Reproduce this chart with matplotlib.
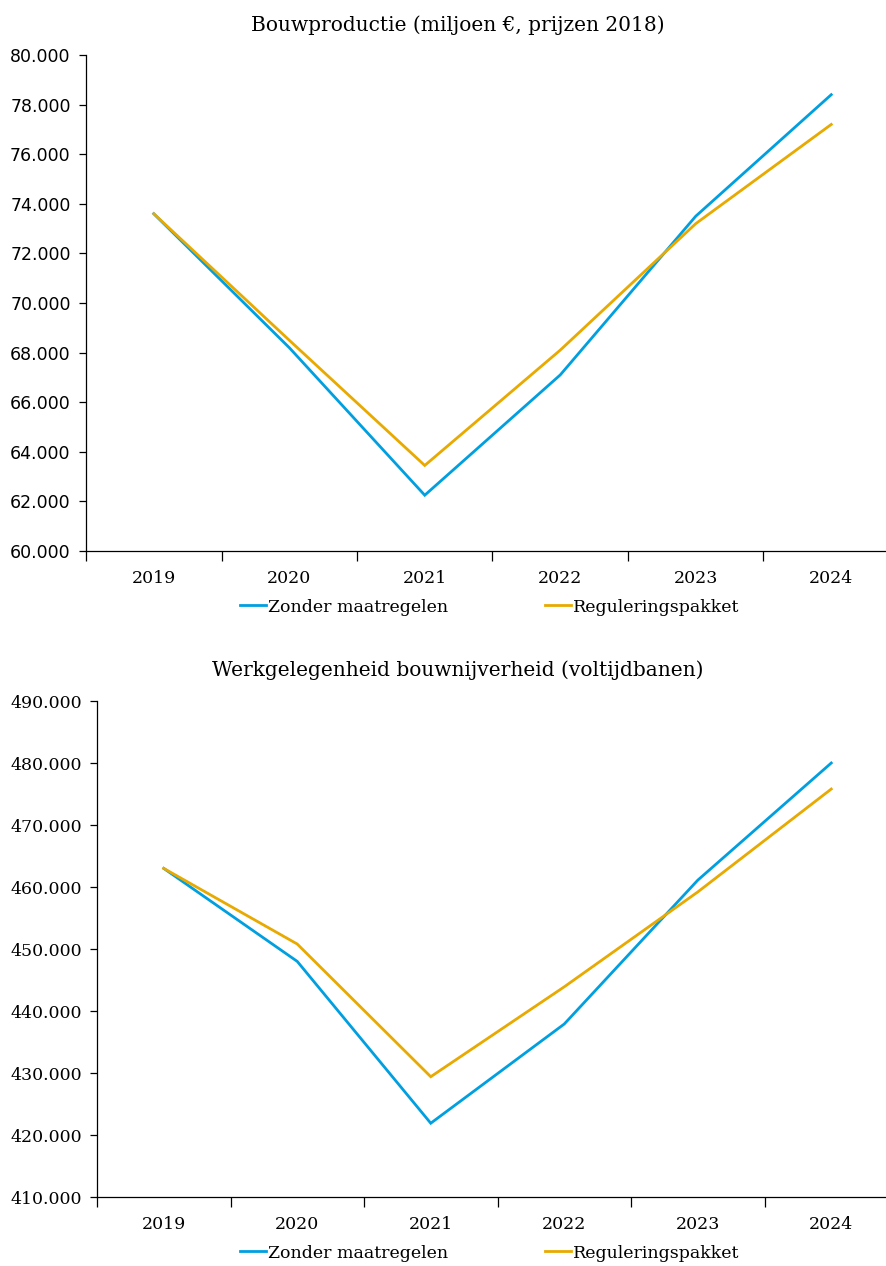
import matplotlib.pyplot as plt
from matplotlib.ticker import FuncFormatter, FixedLocator

years = ["2019", "2020", "2021", "2022", "2023", "2024"]
series_names = ["Zonder maatregelen", "Reguleringspakket"]
colors = ["#009FE0", "#E8A900"]

# Bouwproductie, miljoen euro (prijzen 2018)
productie_zonder = [73600, 68200, 62250, 67100, 73500, 78400]
productie_pakket = [73600, 68500, 63450, 68100, 73200, 77200]

# Werkgelegenheid bouwnijverheid, voltijdbanen
banen_zonder = [463000, 448000, 421900, 437900, 461100, 480000]
banen_pakket = [463000, 450800, 429400, 443900, 459200, 475800]

W, H = 886, 1266
SERIF = "DejaVu Serif"


def dotted_thousands(v, _pos=None):
    return f"{v:,.0f}".replace(",", ".")


def panel(rect_px, title, zonder, pakket, ylim, ystep, ytick_font, title_y, legend_y):
    left, top, right, bottom = rect_px
    ax = plt.gcf().add_axes([left / W, 1 - bottom / H, (right - left) / W, (bottom - top) / H])
    x = range(len(years))
    ax.plot(x, zonder, color=colors[0], lw=2.0, label=series_names[0], solid_joinstyle="miter")
    ax.plot(x, pakket, color=colors[1], lw=2.0, label=series_names[1], solid_joinstyle="miter")

    ax.set_xlim(-0.5, len(years) - 0.5)
    ax.set_ylim(*ylim)
    ax.set_yticks(range(ylim[0], ylim[1] + 1, ystep))
    ax.yaxis.set_major_formatter(FuncFormatter(dotted_thousands))

    # category boundaries carry the tick marks, labels sit in the middle
    ax.xaxis.set_major_locator(FixedLocator([i - 0.5 for i in range(len(years) + 1)]))
    ax.xaxis.set_minor_locator(FixedLocator(list(x)))
    ax.set_xticklabels([""] * (len(years) + 1))
    ax.set_xticklabels(years, minor=True, family=SERIF, fontsize=12.5)
    ax.tick_params(axis="x", which="major", length=7, width=0.9, direction="out")
    ax.tick_params(axis="x", which="minor", length=0, pad=14)
    ax.tick_params(axis="y", length=5, width=0.9, pad=6)
    for lab in ax.get_yticklabels():
        lab.set_family(ytick_font)
        lab.set_fontsize(12.5)

    for side in ("top", "right"):
        ax.spines[side].set_visible(False)
    for side in ("left", "bottom"):
        ax.spines[side].set_linewidth(0.9)

    plt.gcf().text(458 / W, 1 - title_y / H, title, ha="center", va="center",
                   family=SERIF, fontsize=14.5)
    ax.legend(loc="center", bbox_to_anchor=(490 / W, 1 - legend_y / H),
              bbox_transform=plt.gcf().transFigure, ncol=2, frameon=False,
              prop={"family": SERIF, "size": 12.5}, handlelength=1.45,
              handletextpad=0.15, columnspacing=5.6, borderaxespad=0)
    return ax


fig = plt.figure(figsize=(W / 100, H / 100), dpi=100)

panel((86, 55, 899, 551), "Bouwproductie (miljoen €, prijzen 2018)",
      productie_zonder, productie_pakket, (60000, 80000), 2000,
      "DejaVu Sans", 25, 607)
panel((97, 701, 898, 1197), "Werkgelegenheid bouwnijverheid (voltijdbanen)",
      banen_zonder, banen_pakket, (410000, 490000), 10000,
      SERIF, 670, 1253)

fig.savefig("out.png", dpi=100)
